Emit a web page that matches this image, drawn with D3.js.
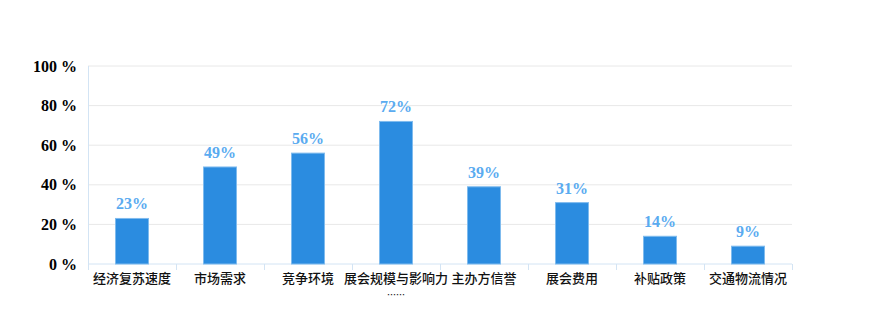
<!DOCTYPE html>
<html>
<head>
<meta charset="utf-8">
<script src="https://cdn.jsdelivr.net/npm/d3@7"></script>
<style>
  body { margin: 0; background: #fff; }
  .ytick { font-family: "Liberation Serif", "DejaVu Serif", serif; font-weight: bold; font-size: 16px; fill: #000; }
  .xlabel { font-family: "Noto Sans CJK SC", sans-serif; font-weight: 500; font-size: 13px; fill: #111; }
  .vlabel { font-family: "Liberation Serif", serif; font-weight: bold; font-size: 16px; fill: #5aabf0; }
</style>
</head>
<body>
<div id="vis"></div>
<script>
var categories = ['经济复苏速度', '市场需求', '竞争环境', '展会规模与影响力……', '主办方信誉', '展会费用', '补贴政策', '交通物流情况'];
var values = [23, 49, 56, 72, 39, 31, 14, 9];
var yTicks = [0, 20, 40, 60, 80, 100];

var width = 880, height = 330;
var margin = { left: 88, right: 88, top: 66, bottom: 66 };
var drawWidth = width - margin.left - margin.right;
var drawHeight = height - margin.top - margin.bottom;

var svg = d3.select('#vis').append('svg')
    .attr('width', width)
    .attr('height', height);

var g = svg.append('g')
    .attr('transform', 'translate(' + margin.left + ',' + margin.top + ')');

var xScale = d3.scaleBand().domain(categories).range([0, drawWidth]);
var yScale = d3.scaleLinear().domain([0, 100]).range([drawHeight, 0]);

// grid lines
g.selectAll('.grid').data(yTicks.slice(1)).enter().append('line')
    .attr('x1', 0).attr('x2', drawWidth)
    .attr('y1', function(d) { return yScale(d); })
    .attr('y2', function(d) { return yScale(d); })
    .attr('stroke', '#e8e8e8').attr('stroke-width', 1);

// y axis line
g.append('line')
    .attr('x1', 0.5).attr('x2', 0.5)
    .attr('y1', 0).attr('y2', drawHeight)
    .attr('stroke', '#d3e4f4');

// y labels
g.selectAll('.ytick').data(yTicks).enter().append('text')
    .attr('class', 'ytick')
    .attr('x', -11)
    .attr('y', function(d) { return yScale(d); })
    .attr('dy', '0.35em')
    .attr('text-anchor', 'end')
    .text(function(d) { return d + ' %'; });

// x axis
var xAxis = d3.axisBottom(xScale).tickSize(5).tickFormat('');
var xAxisG = g.append('g')
    .attr('transform', 'translate(0,' + drawHeight + ')')
    .call(xAxis);
xAxisG.select('.domain').attr('stroke', '#d3e4f4').attr('d', 'M0.5,0H' + drawWidth);
// ticks at band boundaries
xAxisG.selectAll('.tick').remove();
var bounds = d3.range(categories.length + 1).map(function(i) { return i * xScale.step(); });
xAxisG.selectAll('.bnd').data(bounds).enter().append('line')
    .attr('x1', function(d) { return d + 0.5; })
    .attr('x2', function(d) { return d + 0.5; })
    .attr('y1', 0).attr('y2', 6)
    .attr('stroke', '#d3e4f4');

// x labels
categories.forEach(function(c) {
    var cx = xScale(c) + xScale.bandwidth() / 2;
    var t = g.append('text').attr('class', 'xlabel')
        .attr('text-anchor', 'middle')
        .attr('x', cx)
        .attr('y', drawHeight + 19);
    if (c.indexOf('……') >= 0) {
        t.text(c.replace('……', ''));
        g.append('text').attr('class', 'xlabel')
            .attr('text-anchor', 'middle')
            .attr('x', cx)
            .attr('y', drawHeight + 34)
            .style('font-size', '9px')
            .text('……');
    } else {
        t.text(c);
    }
});

// bars
var barW = xScale.bandwidth() * 0.375;
g.selectAll('rect.bar').data(values).enter().append('rect')
    .attr('class', 'bar')
    .attr('x', function(d, i) { return xScale(categories[i]) + (xScale.bandwidth() - barW) / 2; })
    .attr('y', function(d) { return yScale(d); })
    .attr('width', barW)
    .attr('height', function(d) { return drawHeight - yScale(d); })
    .attr('fill', '#2b8ce0')
    .attr('stroke', '#7fbbee')
    .attr('stroke-width', 1);

// value labels
g.selectAll('text.vlabel').data(values).enter().append('text')
    .attr('class', 'vlabel')
    .attr('text-anchor', 'middle')
    .attr('x', function(d, i) { return xScale(categories[i]) + xScale.bandwidth() / 2; })
    .attr('y', function(d) { return yScale(d) - 9; })
    .text(function(d) { return d + '%'; });
</script>
</body>
</html>
